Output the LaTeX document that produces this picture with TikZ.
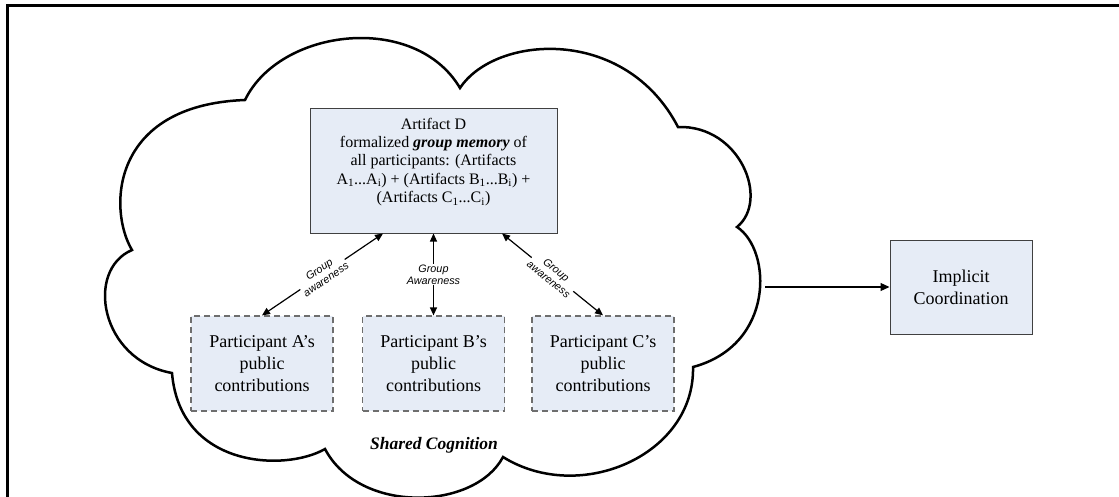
\documentclass[tikz,border=0pt]{standalone}
\usepackage{fontspec}
\setmainfont{Liberation Serif}
\setsansfont{Liberation Sans}
\usetikzlibrary{arrows.meta,calc}
\definecolor{boxfill}{RGB}{230,236,246}
\definecolor{boxline}{RGB}{64,64,64}
\definecolor{dashline}{RGB}{110,110,110}
\begin{document}
\begin{tikzpicture}[x=1pt,y=-1pt,
 solidbox/.style={draw=boxline, line width=1pt, fill=boxfill, inner sep=0pt},
 dashbox/.style={draw=dashline, line width=1.2pt, dash pattern=on 6pt off 4pt, fill=boxfill, inner sep=0pt, minimum width=142pt, minimum height=95pt, align=center, font=\fontsize{18}{21.7}\selectfont},
 conn/.style={line width=1.2pt, {Triangle[length=8pt,width=7pt]}-{Triangle[length=8pt,width=7pt]}},
 lbl/.style={font=\fontsize{10.8}{12}\selectfont\sffamily\itshape, align=center, fill=white, inner sep=0.5pt},
 cloudline/.style={line width=2.5pt, line join=miter}
]
\useasboundingbox (0,0) rectangle (1119,496);
\draw[line width=3pt] (7,497) -- (7,5.5) -- (1120,5.5);

% cloud
\draw[cloudline] (245,100)
  .. controls (280,28) and (415,12) .. (460,88)
  .. controls (495,35) and (625,25) .. (678,127)
  .. controls (740,125) and (770,200) .. (737,227)
  .. controls (772,250) and (775,345) .. (693,367)
  .. controls (695,455) and (580,505) .. (503,457)
  .. controls (475,510) and (360,515) .. (325,449)
  .. controls (285,472) and (180,468) .. (172,373)
  .. controls (100,360) and (85,270) .. (132,250)
  .. controls (108,210) and (110,105) .. (245,100) -- cycle;

\node[solidbox, minimum width=247pt, minimum height=125pt] (D) at (433.5,170.5) {};
\node[align=center, font=\fontsize{16}{18.3}\selectfont, inner sep=0pt] (Dtext) at (433.5,162) {Artifact D\\formalized \textbf{\textit{group memory}} of\\all participants: (Artifacts\\A\textsubscript{1}...A\textsubscript{i}) + (Artifacts B\textsubscript{1}...B\textsubscript{i}) +\\(Artifacts C\textsubscript{1}...C\textsubscript{i})};

\node[dashbox] (A) at (262,363.5) {Participant A’s\\public\\contributions};
\node[dashbox] (B) at (433.5,363.5) {Participant B’s\\public\\contributions};
\node[dashbox] (C) at (603,363.5) {Participant C’s\\public\\contributions};

\node[solidbox, minimum width=142pt, minimum height=94pt, align=center, font=\fontsize{18}{21.7}\selectfont] (IC) at (961,287) {Implicit\\Coordination};

\node[font=\fontsize{17.5}{20}\selectfont\bfseries\itshape] (SC) at (434,445) {Shared Cognition};

\coordinate (dA) at ($(D.south)+(-50.5,0)$);
\coordinate (dC) at ($(D.south)+(68.5,0)$);
\draw[conn] (dA) -- node[lbl, sloped]{Group\\awareness} (A.north);
\draw[conn] (D.south) -- node[lbl]{Group\\Awareness} (B.north);
\draw[conn] (dC) -- node[lbl, sloped]{Group\\awareness} (C.north);

\coordinate (cloudR) at (765,287);
\draw[line width=1.2pt, -{Triangle[length=9pt,width=8pt]}] (cloudR) -- (IC.west);
\end{tikzpicture}
\end{document}
